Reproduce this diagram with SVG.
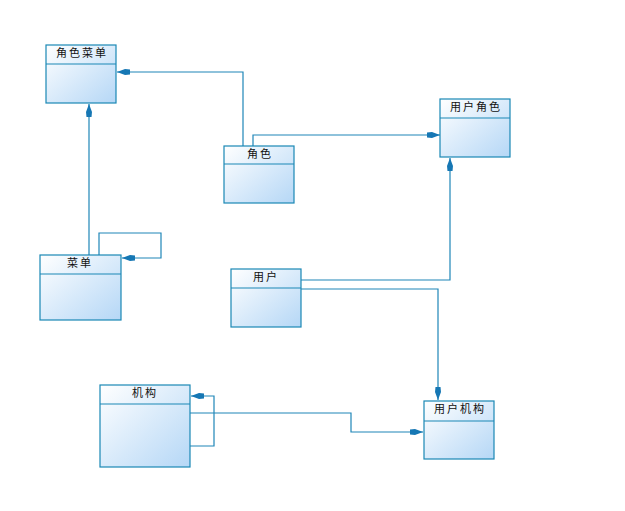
<svg xmlns="http://www.w3.org/2000/svg" width="625" height="511" viewBox="0 0 625 511">
<style>
.box{fill:url(#g);stroke:#1a88b5;stroke-width:1.2}
.div{stroke:#1a88b5;stroke-width:1.2}
.t{font-family:"Noto Sans CJK SC","Noto Sans",sans-serif;font-size:11px;fill:#111;text-anchor:middle;letter-spacing:2px}
.c{fill:none;stroke:#1f86b8;stroke-width:1.2}
</style>
<defs>
<linearGradient id="g" x1="0" y1="0" x2="1" y2="1">
<stop offset="0" stop-color="#ffffff"/>
<stop offset="1" stop-color="#b5d7f6"/>
</linearGradient>
<marker id="a" markerWidth="14" markerHeight="10" refX="13" refY="4" orient="auto" markerUnits="userSpaceOnUse">
<path d="M0,1.5 L5,1 L13,4 L5,7 L0,6.5 z" fill="#1677b4"/>
</marker>
</defs>
<rect width="625" height="511" fill="#fff"/>
<g id="connectors">
<polyline class="c" points="243,146 243,72 117,72" marker-end="url(#a)"/>
<polyline class="c" points="253,146 253,135 440,135" marker-end="url(#a)"/>
<polyline class="c" points="89,255 89,104" marker-end="url(#a)"/>
<polyline class="c" points="99,255 99,233 161,233 161,258 122,258" marker-end="url(#a)"/>
<polyline class="c" points="301,280 450,280 450,158" marker-end="url(#a)"/>
<polyline class="c" points="301,289 438,289 438,400" marker-end="url(#a)"/>
<polyline class="c" points="190,413 351,413 351,432 423,432" marker-end="url(#a)"/>
<polyline class="c" points="190,446 214,446 214,396 191,396" marker-end="url(#a)"/>
</g>
<g id="n_jsc">
<rect class="box" x="46" y="45" width="70" height="58"/>
<line class="div" x1="46" y1="64" x2="116" y2="64"/>
<text class="t" x="82" y="57">角色菜单</text>
</g>
<g id="n_js">
<rect class="box" x="224" y="146" width="70" height="57"/>
<line class="div" x1="224" y1="164" x2="294" y2="164"/>
<text class="t" x="260" y="158">角色</text>
</g>
<g id="n_yhjs">
<rect class="box" x="440" y="99" width="70" height="58"/>
<line class="div" x1="440" y1="118" x2="510" y2="118"/>
<text class="t" x="476" y="111">用户角色</text>
</g>
<g id="n_cd">
<rect class="box" x="40" y="255" width="81" height="65"/>
<line class="div" x1="40" y1="274" x2="121" y2="274"/>
<text class="t" x="80" y="267">菜单</text>
</g>
<g id="n_yh">
<rect class="box" x="231" y="269" width="70" height="58"/>
<line class="div" x1="231" y1="288" x2="301" y2="288"/>
<text class="t" x="266" y="281">用户</text>
</g>
<g id="n_jg">
<rect class="box" x="100" y="385" width="90" height="82"/>
<line class="div" x1="100" y1="404" x2="190" y2="404"/>
<text class="t" x="145" y="397">机构</text>
</g>
<g id="n_yhjg">
<rect class="box" x="424" y="401" width="70" height="58"/>
<line class="div" x1="424" y1="421" x2="494" y2="421"/>
<text class="t" x="460" y="413">用户机构</text>
</g>
</svg>
